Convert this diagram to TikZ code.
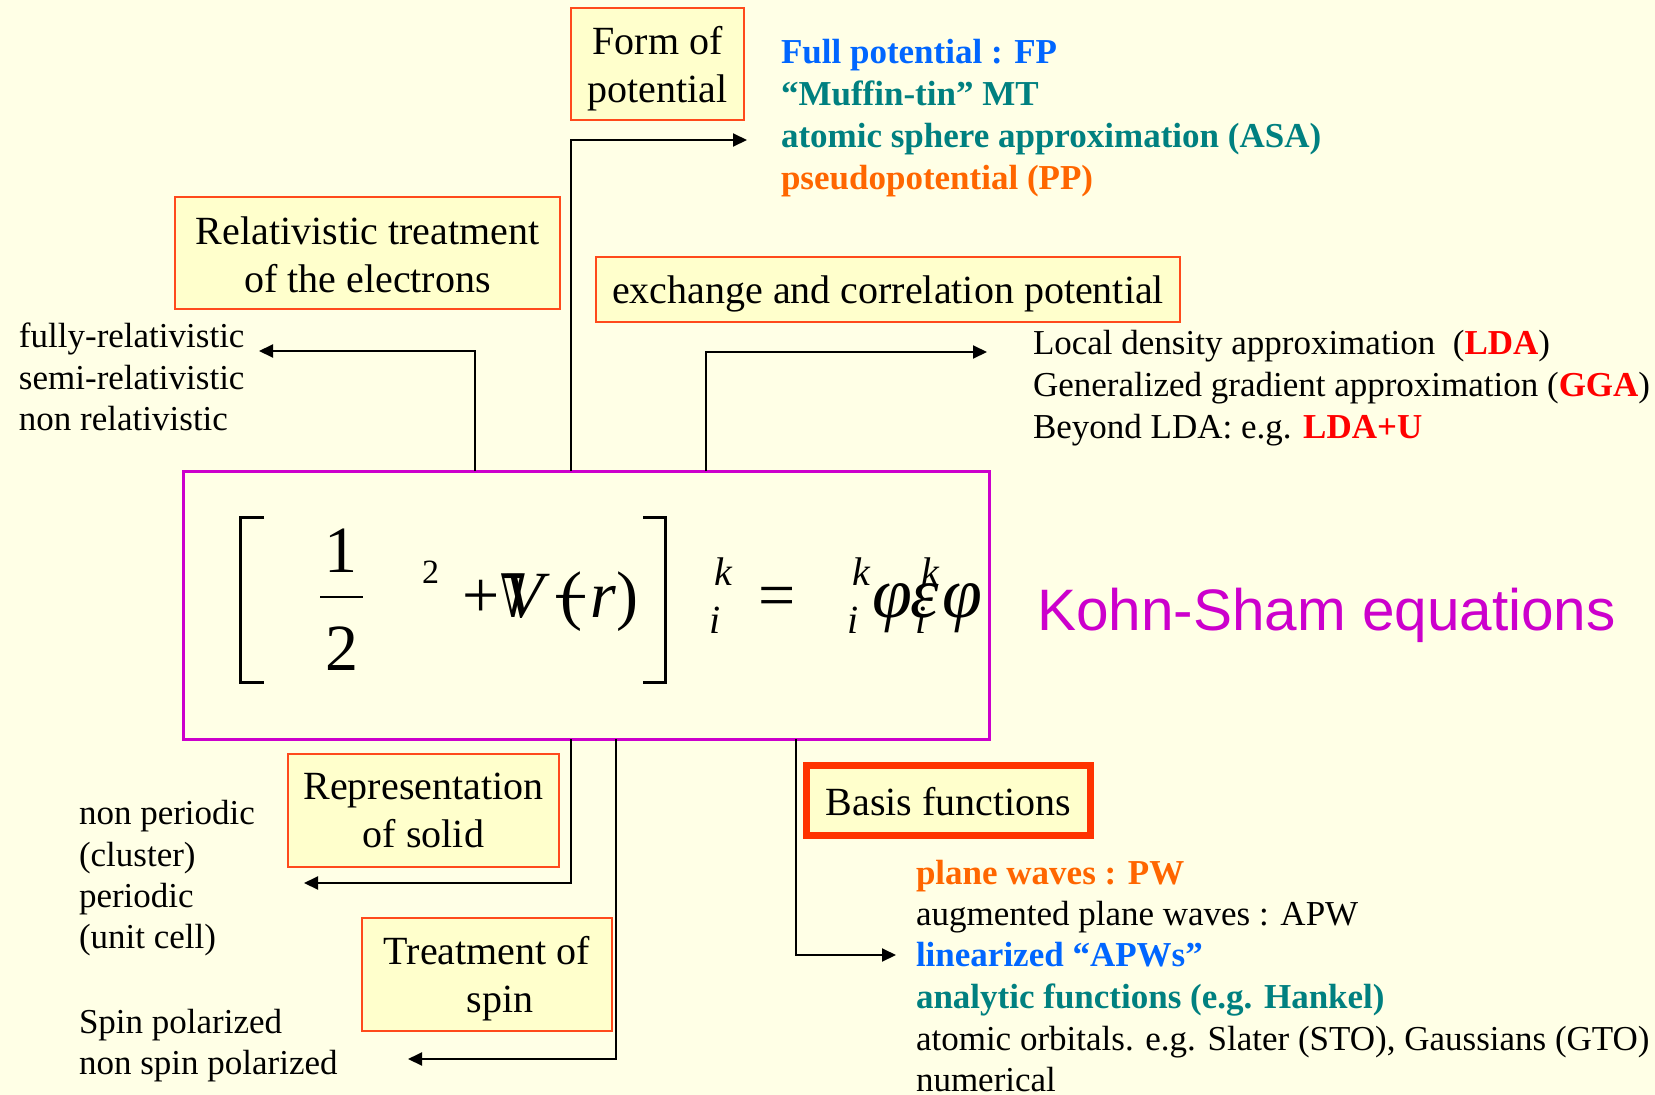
\documentclass[tikz,border=0pt]{standalone}
\usepackage{fontspec}
\setmainfont{Liberation Serif}
\newfontfamily\kssans{Liberation Sans}
\newfontfamily\nablafont{DejaVu Serif}
\usetikzlibrary{arrows.meta}

\definecolor{bg}{HTML}{FFFFE6}
\definecolor{boxfill}{HTML}{FFFFCC}
\definecolor{boxline}{HTML}{FF4A1C}
\definecolor{basisline}{HTML}{FF3300}
\definecolor{ksmag}{HTML}{CC00CC}
\definecolor{fpblue}{HTML}{0066FF}
\definecolor{myteal}{HTML}{008080}
\definecolor{pporange}{HTML}{FF6600}
\definecolor{ldared}{HTML}{FF0000}

\begin{document}
\begin{tikzpicture}[x=1pt,y=-1pt,
  every node/.style={inner sep=0pt, outer sep=0pt},
  topic/.style={draw=boxline, line width=2pt, fill=boxfill},
  topictext/.style={align=center, font=\fontsize{40}{48}\selectfont},
  listtxt/.style={anchor=base west, font=\fontsize{35}{42}\selectfont},
  eqbig/.style={anchor=base west, font=\fontsize{66}{70}\selectfont},
  eqital/.style={anchor=base west, font=\fontsize{66}{70}\selectfont\itshape},
  eqgreek/.style={anchor=base west, font=\fontsize{72}{76}\selectfont\itshape},
  eqidx/.style={anchor=base west, font=\fontsize{40}{44}\selectfont\itshape},
  conn/.style={line width=2pt, -{Triangle[length=14pt,width=13pt]}},
  bracket/.style={line width=3pt},
]
\useasboundingbox (0,0) rectangle (1655,1095);
\fill[bg] (0,0) rectangle (1655,1095);

% ---- topic boxes ----
\node[topic, minimum width=173pt, minimum height=112pt] (form) at (657.5,64) {};
\node[topictext, yshift=-5pt] (formtxt) at (form) {Form of\\potential};
\node[topic, minimum width=385pt, minimum height=112pt] (rel) at (367.5,253) {};
\node[topictext, yshift=-2pt] (reltxt) at (rel) {Relativistic treatment\\of the electrons};
\node[topic, minimum width=584pt, minimum height=65pt] (xc) at (888,289.5) {};
\node[topictext, yshift=-4pt] (xctxt) at (xc) {exchange and correlation potential};
\node[topic, minimum width=271pt, minimum height=113pt] (rep) at (423.5,810.5) {};
\node[topictext] (reptxt) at (rep) {Representation\\of solid};
\node[topic, minimum width=250pt, minimum height=113pt] (spin) at (487,974.5) {};
\node[topictext, yshift=-4pt] (spintxt) at (spin) {Treatment of\\\hspace*{26pt}spin};
\node[topic, draw=basisline, line width=7pt, minimum width=284pt, minimum height=70pt] (basis) at (948.5,800.5) {};
\node[topictext, yshift=-1pt] (basistxt) at (basis) {Basis functions};

% ---- central equation box ----
\node[draw=ksmag, line width=3pt, minimum width=806pt, minimum height=268pt] (ks) at (586,605) {};
\node[anchor=base west, font=\kssans\fontsize{58.5}{62}\selectfont, text=ksmag] (kslabel) at (1037,630) {Kohn-Sham equations};

% brackets and fraction
\draw[bracket] (264,517) -- (240,517) -- (240,682) -- (264,682);
\draw[bracket] (643,517) -- (665,517) -- (665,682) -- (643,682);
\node[anchor=base, font=\fontsize{66}{70}\selectfont] (num) at (341,572) {1};
\node[anchor=base, font=\fontsize{66}{70}\selectfont] (den) at (342,670) {2};
\draw[line width=2.5pt] (320,597) -- (363,597);
\node[anchor=base west, font=\fontsize{34}{36}\selectfont] (sq) at (422,583) {2};
\node[eqbig] (plus) at (462,617) {+};
\node[anchor=base west] (nab) at (500,617) {\scalebox{0.62}[1]{\nablafont\fontsize{60}{64}\selectfont ∇}};
\node[eqital] (vv) at (503,617) {V};
\node[eqbig] (lp) at (560,617) {(};
\node[eqbig] (minus) at (553,617) {\fontsize{62}{64}\selectfont −};
\node[eqital] (rr) at (590,617) {r};
\node[eqbig] (rp) at (616,617) {)};
\node[eqidx] (k1) at (714,585) {k};
\node[eqidx] (i1) at (709,633) {i};
\node[eqbig] (eq) at (758,617) {=};
\node[eqidx] (k2) at (852,585) {k};
\node[eqidx] (i2) at (847,633) {i};
\node[eqgreek] (phi1) at (872,617) {φ};
\node[eqgreek] (eps) at (910,617) {ε};
\node[eqidx] (k3) at (921,585) {k};
\node[eqidx] (i3) at (915,633) {i};
\node[eqgreek] (phi2) at (942,617) {φ};

% ---- option lists ----
\node[listtxt, font=\fontsize{35}{42}\selectfont\bfseries, text=fpblue] (fp1) at (781,63) {Full potential : FP};
\node[listtxt, font=\fontsize{35}{42}\selectfont\bfseries, text=myteal] (fp2) at (781,105) {“Muffin-tin” MT};
\node[listtxt, font=\fontsize{35}{42}\selectfont\bfseries, text=myteal] (fp3) at (781,147) {atomic sphere approximation (ASA)};
\node[listtxt, font=\fontsize{35}{42}\selectfont\bfseries, text=pporange] (fp4) at (781,189) {pseudopotential (PP)};

\node[listtxt] (rl1) at (19,347) {fully-relativistic};
\node[listtxt] (rl2) at (19,389) {semi-relativistic};
\node[listtxt] (rl3) at (19,430) {non relativistic};

\node[listtxt] (xc1) at (1033,354) {Local density approximation\ \ (\textcolor{ldared}{\bfseries LDA})};
\node[listtxt] (xc2) at (1033,396) {Generalized gradient approximation (\textcolor{ldared}{\bfseries GGA})};
\node[listtxt] (xc3) at (1033,438) {Beyond LDA: e.g. \textcolor{ldared}{\bfseries LDA+U}};

\node[listtxt] (sl1) at (79,824) {non periodic};
\node[listtxt] (sl2) at (79,866) {(cluster)};
\node[listtxt] (sl3) at (79,907) {periodic};
\node[listtxt] (sl4) at (79,948) {(unit cell)};

\node[listtxt] (sp1) at (79,1033) {Spin polarized};
\node[listtxt] (sp2) at (79,1074) {non spin polarized};

\node[listtxt, font=\fontsize{35}{42}\selectfont\bfseries, text=pporange] (bf1) at (916,884) {plane waves : PW};
\node[listtxt] (bf2) at (916,925) {augmented plane waves : APW};
\node[listtxt, font=\fontsize{35}{42}\selectfont\bfseries, text=fpblue] (bf3) at (916,966) {linearized “APWs”};
\node[listtxt, font=\fontsize{35}{42}\selectfont\bfseries, text=myteal] (bf4) at (916,1008) {analytic functions (e.g. Hankel)};
\node[listtxt] (bf5) at (916,1050) {atomic orbitals. e.g. Slater (STO), Gaussians (GTO)};
\node[listtxt] (bf6) at (916,1091) {numerical};

% ---- connectors ----
\coordinate (formBend) at (571,140);
\coordinate (formTip) at (747,140);
\draw[conn] (ks.north -| formBend) -- (formBend) -- (formTip);

\coordinate (relBend) at (475,351);
\coordinate (relTip) at (259,351);
\draw[conn] (ks.north -| relBend) -- (relBend) -- (relTip);

\coordinate (xcBend) at (706,352);
\coordinate (xcTip) at (987,352);
\draw[conn] (ks.north -| xcBend) -- (xcBend) -- (xcTip);

\coordinate (repBend) at (571,883);
\coordinate (repTip) at (304,883);
\draw[conn] (ks.south -| repBend) -- (repBend) -- (repTip);

\coordinate (spinBend) at (616,1059);
\coordinate (spinTip) at (408,1059);
\draw[conn] (ks.south -| spinBend) -- (spinBend) -- (spinTip);

\coordinate (basBend) at (796,955);
\coordinate (basTip) at (896,955);
\draw[conn] (ks.south -| basBend) -- (basBend) -- (basTip);
\end{tikzpicture}
\end{document}
